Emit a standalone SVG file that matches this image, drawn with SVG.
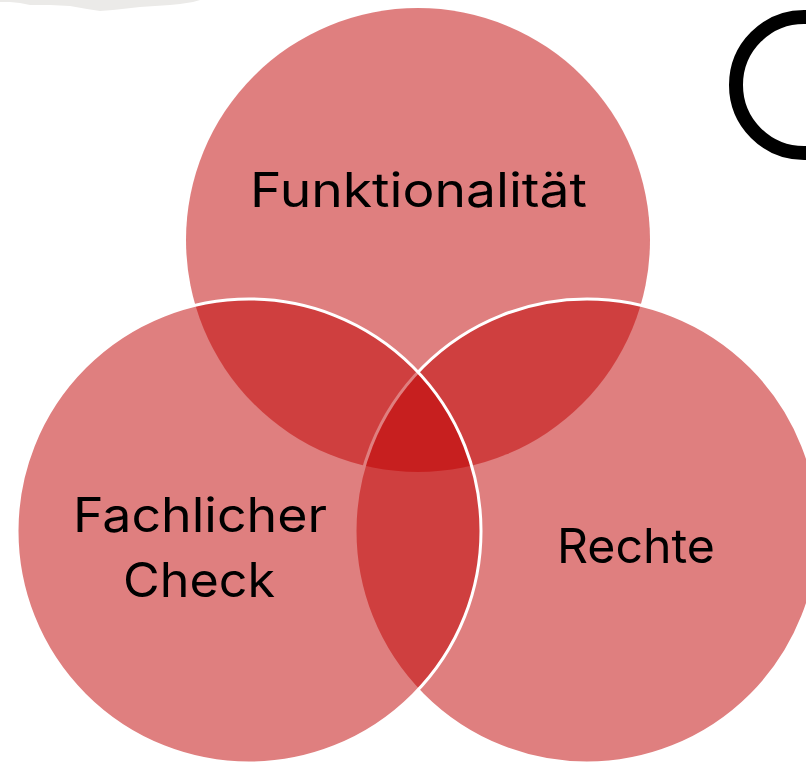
<svg xmlns="http://www.w3.org/2000/svg" width="806" height="764" viewBox="0 0 806 764">
  <style>
    .venn { fill: #C00000; fill-opacity: 0.5; }
    .edge { stroke: #FFFFFF; stroke-width: 3; }
    .label { font-family: Inter, "Open Sans", "Liberation Sans", sans-serif; font-size: 48px; fill: #000000; text-anchor: middle; }
  </style>
  <rect width="806" height="764" fill="#FFFFFF"/>
  <path d="M0,0 L200,0 L193,2 L180,4 L170,5 L140,7 L113,10 L100,11 L87,9 L70,6 L50,5 L30,5 L20,3 L10,2 L0,2 Z" fill="#EBEAE8"/>
  <circle cx="804" cy="85" r="68" fill="none" stroke="#000000" stroke-width="14"/>
  <g id="node-funktionalitaet">
    <circle class="venn" cx="418" cy="240" r="232"/>
  </g>
  <g id="node-rechte">
    <circle class="venn edge" cx="587" cy="531" r="232"/>
  </g>
  <g id="node-fachlicher-check">
    <circle class="venn edge" cx="249" cy="531" r="232"/>
  </g>
  <g id="connectors"></g>
  <g id="labels">
    <text class="label" x="418.5" y="207" textLength="337" lengthAdjust="spacingAndGlyphs">Funktionalität</text>
    <text class="label" x="200" y="532" textLength="254" lengthAdjust="spacingAndGlyphs">Fachlicher</text>
    <text class="label" x="199" y="597" textLength="152" lengthAdjust="spacingAndGlyphs">Check</text>
    <text class="label" x="636" y="563" textLength="158" lengthAdjust="spacingAndGlyphs">Rechte</text>
  </g>
</svg>
